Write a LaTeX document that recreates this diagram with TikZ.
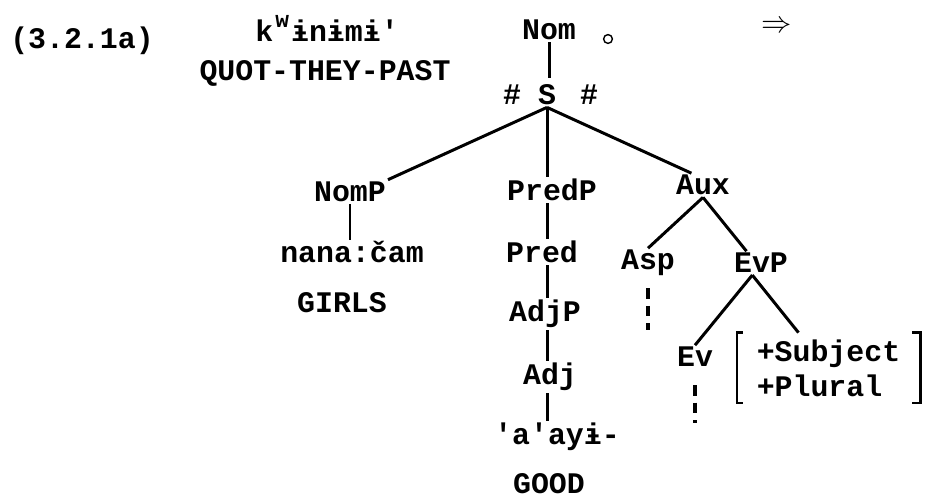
\documentclass[tikz,border=0pt]{standalone}
\usepackage{fontspec}
\setmonofont{Liberation Mono}
\usetikzlibrary{positioning,calc}

\begin{document}
\begin{tikzpicture}[
  font={\ttfamily\bfseries\fontsize{17}{20}\selectfont},
  lab/.style={inner sep=1pt, anchor=base},
  branch/.style={line width=1.7pt},
  elide/.style={line width=1.8pt, dash pattern=on 6pt off 4pt},
  feat/.style={align=left, inner sep=0pt, minimum width=3.66cm, minimum height=1.40cm},
  brack/.style={line width=1.3pt},
]
\useasboundingbox (0,0) rectangle (18.56,10);

% example number, word and gloss
\node[lab] (num) at (1.64,9.02) {(3.2.1a)};
\node[lab] (word) at (6.54,9.16) {k\raisebox{0.47em}{\makebox[0.6em]{\fontsize{13}{13}\selectfont w}}ɨnɨmɨ'};
\node[lab] (gloss) at (6.50,8.38) {QUOT-THEY-PAST};
\node (arrow) at (15.54,9.46) {$\Rightarrow$};

% top of the tree
\node[lab] (Nom) at (10.98,9.20) {Nom};
\node[circle, draw, line width=0.8pt, inner sep=0pt, minimum size=5pt] (ring) at (12.16,9.22) {};
\node[lab] (S) at (10.94,7.90) {S};
\node[lab] (hashL) at (10.24,7.90) {\#};
\node[lab] (hashR) at (11.78,7.90) {\#};

% daughters of S
\node[lab] (NomP) at (7.00,5.97) {NomP};
\node[lab] (PredP) at (11.04,5.98) {PredP};
\node[lab] (Aux) at (14.06,6.10) {Aux};

\node[lab] (nanacam) at (7.04,4.74) {nana:čam};
\node[lab] (girls) at (6.84,3.74) {GIRLS};

\node[lab] (Pred) at (10.84,4.74) {Pred};
\node[lab] (AdjP) at (10.90,3.56) {AdjP};
\node[lab] (Adj) at (11.00,2.30) {Adj};
\node[lab] (aayi) at (11.14,1.10) {'a'ayɨ-};
\node[lab] (good) at (10.98,0.12) {GOOD};

\node[lab] (Asp) at (12.96,4.60) {Asp};
\node[lab] (EvP) at (15.22,4.54) {EvP};
\node[lab] (Ev) at (13.90,2.66) {Ev};
\node[feat] (feats) at (16.57,2.64) {+Subject\\+Plural};

% branches
\draw[branch, shorten >=3pt] (Nom.south) -- (Nom.south |- S.north);
\draw[branch] (S.south) -- (NomP.north east);
\draw[branch] (S.south) -- (S.south |- PredP.north);
\draw[branch] (S.south) -- ($(Aux.north west)!0.6!(Aux.north)$);
\draw[branch] (NomP.south) -- (NomP.south |- nanacam.north);
\draw[branch] (S.south |- PredP.south) -- (S.south |- Pred.north);
\draw[branch] (S.south |- Pred.south) -- (S.south |- AdjP.north);
\draw[branch] (S.south |- AdjP.south) -- (S.south |- Adj.north);
\draw[branch] (S.south |- Adj.south) -- (S.south |- aayi.north);
\draw[branch] (Aux.south) -- (Asp.north);
\draw[branch] (Aux.south) -- ($(EvP.north west)!0.5!(EvP.north)$);
\draw[branch] ($(EvP.south west)!0.7!(EvP.south)$) -- (Ev.north);
\draw[branch] ($(EvP.south west)!0.7!(EvP.south)$) -- ([xshift=-0.6cm]feats.north);

% elided material
\draw[elide] ([yshift=-0.2cm]Asp.south) -- ++(0,-0.84);
\draw[elide] ([yshift=-0.32cm]Ev.south) -- ++(0,-0.76);

% feature matrix brackets
\draw[brack] ([xshift=0.12cm]feats.north west) -- (feats.north west) -- (feats.south west) -- ++(0.12,0);
\draw[brack] ([xshift=-0.16cm]feats.north east) -- (feats.north east) -- (feats.south east) -- ++(-0.16,0);
\end{tikzpicture}
\end{document}
